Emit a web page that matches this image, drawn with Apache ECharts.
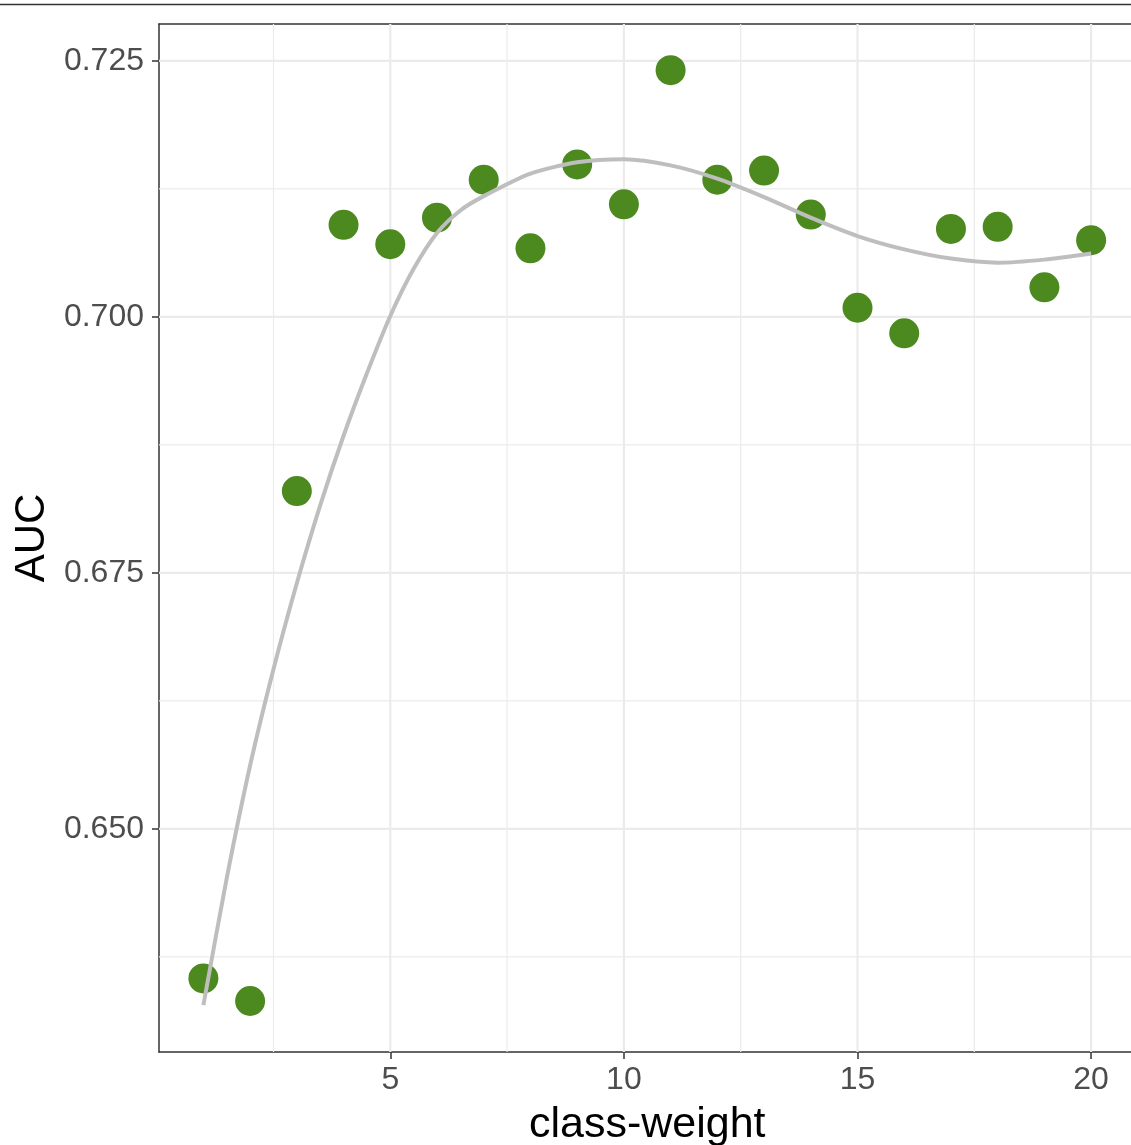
<!DOCTYPE html>
<html>
<head>
<meta charset="utf-8">
<script src="https://cdn.jsdelivr.net/npm/echarts@6/dist/echarts.min.js"></script>
<style>
html,body{margin:0;padding:0;background:#fff;}
#chart{width:1131px;height:1145px;}
</style>
</head>
<body>
<div id="chart"></div>
<script>
// ---- data ----
const classWeight = [1,2,3,4,5,6,7,8,9,10,11,12,13,14,15,16,17,18,19,20];
const aucValues = [0.6354,0.6332,0.6830,0.7090,0.7071,0.7097,0.7134,0.7067,0.7149,0.7110,
                   0.7241,0.7134,0.7143,0.7100,0.7009,0.6984,0.7086,0.7088,0.7029,0.7075];
// smoothed (loess) curve
const smoothX = [1,1.5,2,2.5,3,3.5,4,4.5,5,5.5,6,6.5,7,8,9,10,11,12,13,14,15,16,17,18,19,20];
const smoothValues = [0.6328,0.6452,0.6562,0.6656,0.6740,0.6816,0.6884,0.6945,0.7001,0.7047,0.7082,0.7104,0.7118,
                      0.7140,0.7151,0.7154,0.7148,0.7135,0.7117,0.7097,0.7079,0.7066,0.7057,0.7053,0.7056,0.7062];
const xTicks = [5,10,15,20];
const xMinorGrid = [2.5,7.5,12.5,17.5];
const yTicks = [0.650,0.675,0.700,0.725];
const yMinorGrid = [0.6375,0.6625,0.6875,0.7125];
const xTitle = 'class-weight';
const yTitle = 'AUC';

const X_MIN = 0.05, X_MAX = 20.95;
const Y_MIN = 0.62822, Y_MAX = 0.72861;

const FONT = "'Liberation Sans', Arial, sans-serif";
const chart = echarts.init(document.getElementById('chart'), null, {renderer:'canvas'});

function gridSeries(values, dir, width){
  return values.map(v => ({
    type:'line', silent:true, z:1, showSymbol:false, symbol:'none',
    data: dir === 'v' ? [[v, Y_MIN],[v, Y_MAX]] : [[X_MIN, v],[X_MAX, v]],
    lineStyle:{color:'#ebebeb', width:width, type:'solid'}
  }));
}

const noSplit = {show:false, lineStyle:{opacity:0}};

const option = {
  animation:false,
  backgroundColor:'#fff',
  graphic:[{type:'line', shape:{x1:0,y1:4.5,x2:1131,y2:4.5}, style:{stroke:'#333',lineWidth:1.5}, z:10}],
  grid:{left:159, top:24, width:976.5, height:1028, show:false, containLabel:false, outerBoundsMode:'none'},
  xAxis:[{
    type:'value', min:X_MIN, max:X_MAX,
    name:xTitle, nameLocation:'middle', nameGap:52,
    nameTextStyle:{fontFamily:FONT, fontSize:43, color:'#000'},
    axisLine:{show:true, onZero:false, lineStyle:{color:'#333', width:1.5}},
    axisTick:{show:true, length:7, customValues:xTicks, lineStyle:{color:'#333', width:1.5}},
    axisLabel:{customValues:xTicks, margin:12, fontFamily:FONT, fontSize:32, color:'#4d4d4d'},
    splitLine:noSplit, minorSplitLine:{show:false}
  },{
    type:'value', position:'top', min:X_MIN, max:X_MAX,
    axisLine:{show:true, onZero:false, lineStyle:{color:'#333', width:1.5}},
    axisTick:{show:false}, axisLabel:{show:false}, splitLine:noSplit
  }],
  yAxis:{
    type:'value', min:Y_MIN, max:Y_MAX,
    name:yTitle, nameLocation:'middle', nameGap:103, nameRotate:90,
    nameTextStyle:{fontFamily:FONT, fontSize:42, color:'#000'},
    axisLine:{show:true, onZero:false, lineStyle:{color:'#333', width:1.5}},
    axisTick:{show:true, length:7, customValues:yTicks, lineStyle:{color:'#333', width:1.5}},
    axisLabel:{customValues:yTicks, margin:15, fontFamily:FONT, fontSize:32, color:'#4d4d4d',
      formatter:v => Number(v).toFixed(3)},
    splitLine:noSplit, minorSplitLine:{show:false}
  },
  series:[].concat(
    gridSeries(xMinorGrid,'v',1.2),
    gridSeries(yMinorGrid,'h',1.2),
    gridSeries(xTicks,'v',2.2),
    gridSeries(yTicks,'h',2.2),
    [
      {type:'scatter', data:classWeight.map((x,i)=>[x,aucValues[i]]), symbolSize:30, z:3,
       itemStyle:{color:'#4c891f', opacity:1}},
      {type:'line', data:smoothX.map((x,i)=>[x,smoothValues[i]]), smooth:0.25,
       showSymbol:false, symbol:'none', z:4,
       lineStyle:{color:'#bebebe', width:4}}
    ])
};
chart.setOption(option);
</script>
</body>
</html>
